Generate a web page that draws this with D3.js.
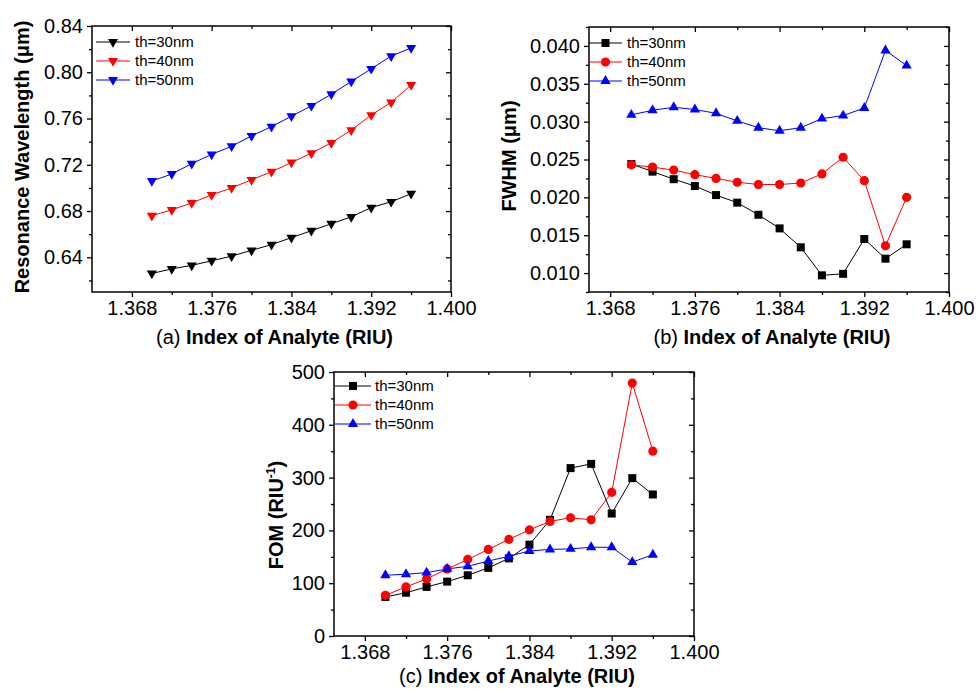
<!DOCTYPE html>
<html><head><meta charset="utf-8">
<script src="https://cdn.jsdelivr.net/npm/d3@7"></script>
<style>
body{margin:0;background:#fff;}
text{font-family:Arial,"Liberation Sans",sans-serif;fill:#000;}
</style>
</head><body>
<svg id="chart" width="976" height="690"></svg>
<script>
// ---------- DATA ----------
const analyteIndex = [1.370,1.372,1.374,1.376,1.378,1.380,1.382,1.384,1.386,1.388,1.390,1.392,1.394,1.396];
const seriesNames = ["th=30nm","th=40nm","th=50nm"];

const wavelength30 = [0.626,0.630,0.633,0.637,0.641,0.646,0.651,0.657,0.663,0.669,0.675,0.683,0.688,0.695];
const wavelength40 = [0.676,0.681,0.687,0.694,0.700,0.707,0.714,0.722,0.730,0.739,0.750,0.763,0.774,0.789];
const wavelength50 = [0.706,0.712,0.721,0.729,0.736,0.745,0.753,0.762,0.771,0.781,0.792,0.803,0.814,0.821];

const fwhm30 = [0.0244,0.0234,0.0224,0.0215,0.0203,0.0193,0.0177,0.0159,0.0134,0.0097,0.0099,0.0145,0.0119,0.0138];
const fwhm40 = [0.0243,0.0240,0.0236,0.0230,0.0225,0.0220,0.0217,0.0217,0.0219,0.0231,0.0253,0.0222,0.0136,0.0200];
const fwhm50 = [0.0309,0.0315,0.0319,0.0316,0.0311,0.0301,0.0292,0.0288,0.0292,0.0304,0.0308,0.0318,0.0394,0.0374];

const fom30 = [74,82,93,103,115,129,147,173,220,318,326,232,299,268];
const fom40 = [77,93,108,127,145,164,183,201,217,224,220,272,479,350];
const fom50 = [115,117,120,127,132,142,151,161,164,165,168,168,140,154];

const xMajorTicks = [1.368,1.376,1.384,1.392,1.400];
const xMinorTicks = [1.364,1.372,1.380,1.388,1.396];
const wlMajorTicks = [0.64,0.68,0.72,0.76,0.80,0.84];
const wlMinorTicks = [0.62,0.66,0.70,0.74,0.78,0.82];
const fwhmMajorTicks = [0.010,0.015,0.020,0.025,0.030,0.035,0.040];
const fwhmMinorTicks = [0.0075,0.0125,0.0175,0.0225,0.0275,0.0325,0.0375,0.0425];
const fomMajorTicks = [0,100,200,300,400,500];
const fomMinorTicks = [50,150,250,350,450];

// ---------- DRAWING ----------
const svg = d3.select("#chart");
const colors = ["#000000","#ff0000","#0000ff"];

function drawPanel(cfg){
  const g = svg.append("g");
  const x = d3.scaleLinear().domain(cfg.xDomain).range([cfg.left, cfg.right]);
  const y = d3.scaleLinear().domain(cfg.yDomain).range([cfg.bottom, cfg.top]);

  g.append("rect").attr("x",cfg.left).attr("y",cfg.top)
    .attr("width",cfg.right-cfg.left).attr("height",cfg.bottom-cfg.top)
    .attr("fill","none").attr("stroke","#000").attr("stroke-width",1.5);

  function styleAxis(sel){
    sel.select(".domain").remove();
    sel.selectAll(".tick line").attr("stroke","#000").attr("stroke-width",1.3);
    sel.selectAll(".tick text").style("font-size","20px").style("font-family","Arial, 'Liberation Sans', sans-serif");
  }
  const xMinor = xMinorTicks.filter(v=>v>cfg.xDomain[0]+1e-9);
  g.append("g").attr("transform",`translate(0,${cfg.bottom})`)
    .call(d3.axisBottom(x).tickValues(xMajorTicks).tickSize(5).tickPadding(4).tickFormat(d3.format(".3f")))
    .call(styleAxis);
  g.append("g").attr("transform",`translate(0,${cfg.bottom})`)
    .call(d3.axisBottom(x).tickValues(xMinor).tickSize(3).tickFormat(""))
    .call(styleAxis);
  g.append("g").attr("transform",`translate(0,${cfg.top})`)
    .call(d3.axisTop(x).tickValues(xMajorTicks).tickSize(-5).tickFormat(""))
    .call(styleAxis);
  g.append("g").attr("transform",`translate(0,${cfg.top})`)
    .call(d3.axisTop(x).tickValues(xMinor).tickSize(-3).tickFormat(""))
    .call(styleAxis);
  g.append("g").attr("transform",`translate(${cfg.left},0)`)
    .call(d3.axisLeft(y).tickValues(cfg.yMajor).tickSize(5).tickPadding(4).tickFormat(cfg.yFormat))
    .call(styleAxis);
  g.append("g").attr("transform",`translate(${cfg.left},0)`)
    .call(d3.axisLeft(y).tickValues(cfg.yMinor).tickSize(3).tickFormat(""))
    .call(styleAxis);
  g.append("g").attr("transform",`translate(${cfg.right},0)`)
    .call(d3.axisRight(y).tickValues(cfg.yMajor).tickSize(-5).tickFormat(""))
    .call(styleAxis);
  g.append("g").attr("transform",`translate(${cfg.right},0)`)
    .call(d3.axisRight(y).tickValues(cfg.yMinor).tickSize(-3).tickFormat(""))
    .call(styleAxis);

  const line = d3.line().x((d,i)=>x(analyteIndex[i])).y(d=>y(d));
  cfg.series.forEach((vals,si)=>{
    g.append("path").datum(vals).attr("d",line)
      .attr("fill","none").attr("stroke",colors[si]).attr("stroke-width",1);
  });
  cfg.series.forEach((vals,si)=>{
    const sym = cfg.symbols[si];
    g.selectAll(null).data(vals).enter().append("path")
      .attr("d", d3.symbol().type(sym.type).size(sym.size)())
      .attr("transform",(d,i)=>`translate(${x(analyteIndex[i])},${y(d)}) rotate(${sym.rot||0})`)
      .attr("fill",colors[si]);
  });

  seriesNames.forEach((name,si)=>{
    const ly = cfg.legend.y0 + si*cfg.legend.dy;
    g.append("line").attr("x1",cfg.legend.x1).attr("x2",cfg.legend.x2)
      .attr("y1",ly).attr("y2",ly).attr("stroke",colors[si]).attr("stroke-width",1);
    const sym = cfg.symbols[si];
    g.append("path").attr("d", d3.symbol().type(sym.type).size(sym.size)())
      .attr("transform",`translate(${(cfg.legend.x1+cfg.legend.x2)/2},${ly}) rotate(${sym.rot||0})`)
      .attr("fill",colors[si]);
    g.append("text").attr("x",cfg.legend.tx).attr("y",ly).attr("dy","0.36em")
      .style("font-size","15px").text(name);
  });

  const xt = g.append("text").attr("x",(cfg.left+cfg.right)/2+3).attr("y",cfg.bottom+cfg.xTitleOffset)
    .attr("text-anchor","middle").style("font-size","20px");
  xt.append("tspan").text(cfg.panel+" ");
  xt.append("tspan").style("font-weight","bold").text("Index of Analyte (RIU)");

  const yt = g.append("text")
    .attr("transform",`translate(${cfg.yTitleX},${cfg.yTitleY}) rotate(-90)`)
    .attr("text-anchor","middle").style("font-size","20px").style("font-weight","bold");
  cfg.yTitle(yt);
}

drawPanel({
  panel:"(a)", left:92, right:451, top:26, bottom:292, xTitleOffset:52,
  xDomain:[1.364,1.400], yDomain:[0.61,0.84],
  yMajor:wlMajorTicks, yMinor:wlMinorTicks, yFormat:d3.format(".2f"),
  series:[wavelength30,wavelength40,wavelength50],
  symbols:[{type:d3.symbolTriangle,size:44,rot:180},{type:d3.symbolTriangle,size:44,rot:180},{type:d3.symbolTriangle,size:44,rot:180}],
  legend:{x1:96,x2:130,tx:135,y0:42,dy:19},
  yTitleX:29, yTitleY:157,
  yTitle:t=>t.text("Resonance Wavelength (μm)")
});

drawPanel({
  panel:"(b)", left:589, right:949, top:27, bottom:292, xTitleOffset:52,
  xDomain:[1.366,1.400], yDomain:[0.0075,0.0425],
  yMajor:fwhmMajorTicks, yMinor:fwhmMinorTicks, yFormat:d3.format(".3f"),
  series:[fwhm30,fwhm40,fwhm50],
  symbols:[{type:d3.symbolSquare,size:64},{type:d3.symbolCircle,size:66},{type:d3.symbolTriangle,size:46}],
  legend:{x1:589,x2:622,tx:627,y0:43,dy:19},
  yTitleX:516, yTitleY:156,
  yTitle:t=>t.text("FWHM (μm)")
});

drawPanel({
  panel:"(c)", left:334, right:694, top:372, bottom:636, xTitleOffset:47,
  xDomain:[1.365,1.400], yDomain:[0,500],
  yMajor:fomMajorTicks, yMinor:fomMinorTicks, yFormat:d3.format("d"),
  series:[fom30,fom40,fom50],
  symbols:[{type:d3.symbolSquare,size:64},{type:d3.symbolCircle,size:66},{type:d3.symbolTriangle,size:46}],
  legend:{x1:335,x2:371,tx:375,y0:386,dy:19},
  yTitleX:283, yTitleY:515,
  yTitle:t=>{ t.append("tspan").text("FOM (RIU");
              t.append("tspan").attr("dy","-8").style("font-size","12px").text("-1");
              t.append("tspan").attr("dy","8").text(")"); }
});
</script>
</body></html>
